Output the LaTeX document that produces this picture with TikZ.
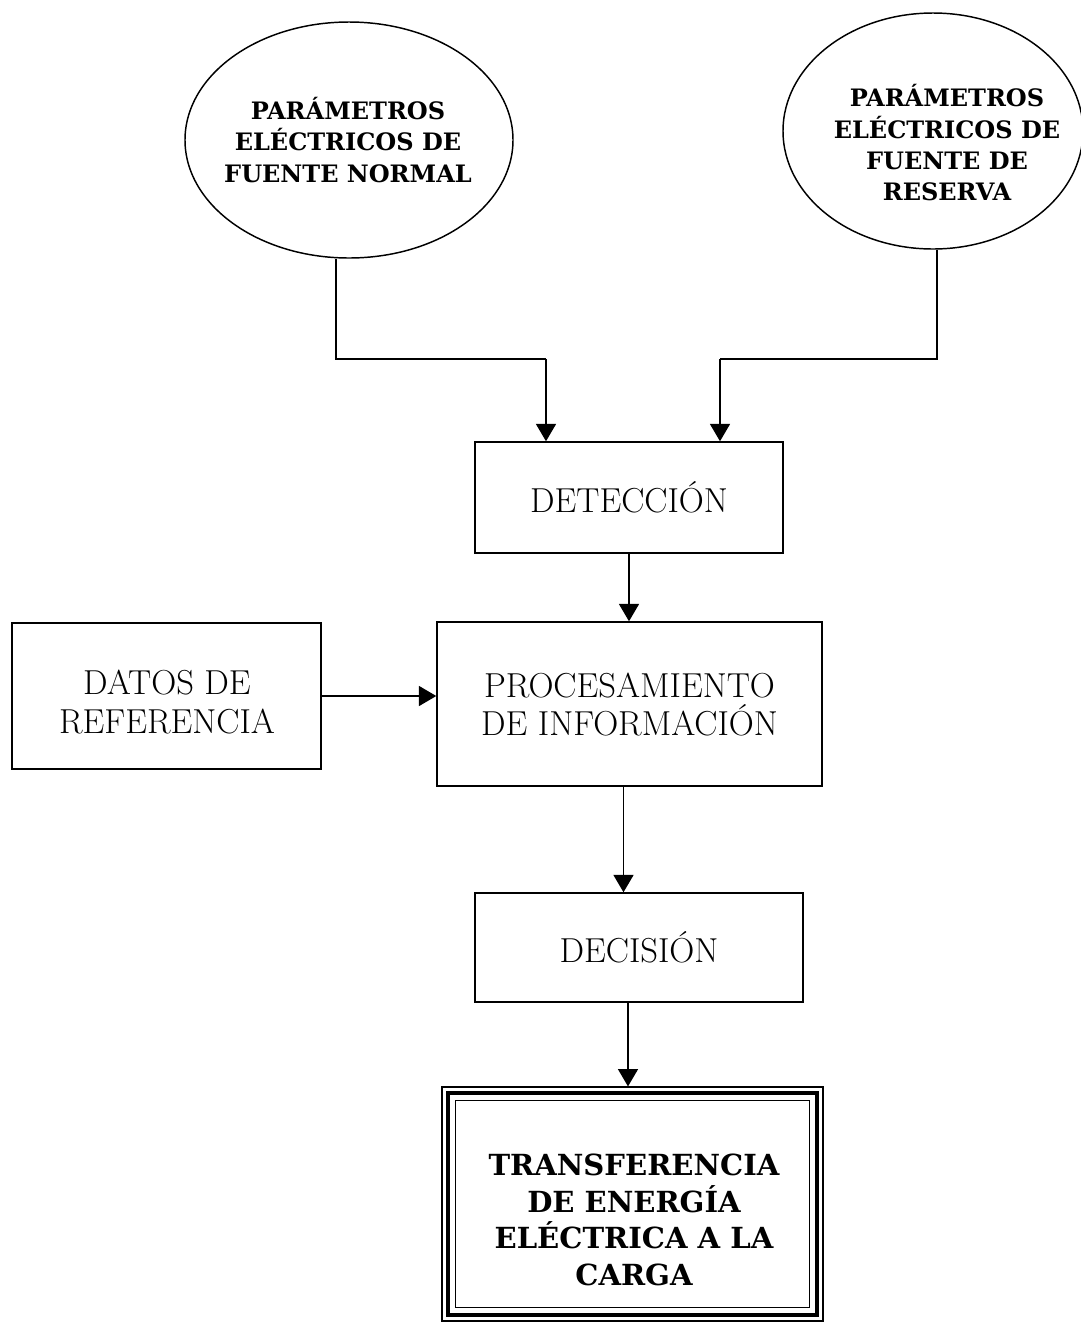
\documentclass[tikz,border=0pt]{standalone}
\usepackage{fontspec}
\newfontfamily\headfont{DejaVu Serif}[BoldFont={DejaVu Serif Bold}]
\usetikzlibrary{shapes.geometric,arrows.meta}

\tikzset{
  blockbox/.style={draw, line width=1.1pt, rectangle, inner sep=0pt, align=center,
    font=\fontsize{26}{28.5}\selectfont},
  source/.style={draw, line width=1.1pt, ellipse, inner sep=0pt},
  boldlbl/.style={align=center, inner sep=0pt, font=\headfont\bfseries\fontsize{18}{23.5}\selectfont},
  biglbl/.style={align=center, inner sep=0pt, font=\headfont\bfseries\fontsize{21.8}{27.5}\selectfont},
  flow/.style={line width=1pt, -{Triangle[width=15pt,length=13pt]}},
  link/.style={line width=1pt},
}

\begin{document}
\begin{tikzpicture}[x=0.75pt, y=-0.75pt]
  \useasboundingbox (0,0) rectangle (1081,1322);

  % input sources
  \node[source, minimum width=328*0.75pt, minimum height=236*0.75pt] (e1) at (349,140) {};
  \node[boldlbl] (e1t) at (348,140) {PARÁMETROS\\ELÉCTRICOS DE\\FUENTE NORMAL};
  \node[source, minimum width=300*0.75pt, minimum height=236*0.75pt] (e2) at (933,131) {};
  \node[boldlbl] (e2t) at (947,143) {PARÁMETROS\\ELÉCTRICOS DE\\FUENTE DE\\RESERVA};

  % processing chain
  \node[blockbox, minimum width=308*0.75pt, minimum height=111*0.75pt] (det) at (629,497.5) {DETECCIÓN};
  \node[blockbox, minimum width=385*0.75pt, minimum height=164*0.75pt, text depth=0pt] (proc) at (629.5,704) {PROCESAMIENTO\\DE INFORMACIÓN};
  \node[blockbox, minimum width=309*0.75pt, minimum height=146*0.75pt] (datos) at (166.5,696) {};
  \node[align=center, inner sep=0pt, font=\fontsize{26}{29.5}\selectfont] (datost) at (167,702) {DATOS DE\\REFERENCIA};
  \node[blockbox, minimum width=328*0.75pt, minimum height=109*0.75pt] (dec) at (639,947.5) {DECISIÓN};

  % final block with triple frame
  \node[draw, line width=0.9pt, rectangle, minimum width=381*0.75pt, minimum height=234*0.75pt] (trans) at (632.5,1204) {};
  \draw[line width=3pt] ([shift={(5.2pt,-5.2pt)}]trans.north west) rectangle ([shift={(-5.2pt,5.2pt)}]trans.south east);
  \draw[line width=0.9pt] ([shift={(10.5pt,-10.5pt)}]trans.north west) rectangle ([shift={(-10.5pt,10.5pt)}]trans.south east);
  \node[biglbl] (transt) at (634,1220) {TRANSFERENCIA\\DE ENERGÍA\\ELÉCTRICA A LA\\CARGA};

  % connectors
  \coordinate (j1) at (546,359);
  \coordinate (j2) at (720,359);
  \draw[link] ([xshift=-13*0.75pt]e1.south) |- (j1);
  \draw[flow] (j1) -- (j1 |- det.north);
  \draw[link] ([xshift=4*0.75pt]e2.south) |- (j2);
  \draw[flow] (j2) -- (j2 |- det.north);
  \draw[flow] (det.south) -- (det.south |- proc.north);
  \draw[flow] (datos.east) -- (datos.east -| proc.west);
  \draw[flow] ([xshift=-6*0.75pt]proc.south) -- ([xshift=-6*0.75pt]proc.south |- dec.north);
  \draw[flow] ([xshift=-11*0.75pt]dec.south) -- ([xshift=-11*0.75pt]dec.south |- trans.north);
\end{tikzpicture}
\end{document}
